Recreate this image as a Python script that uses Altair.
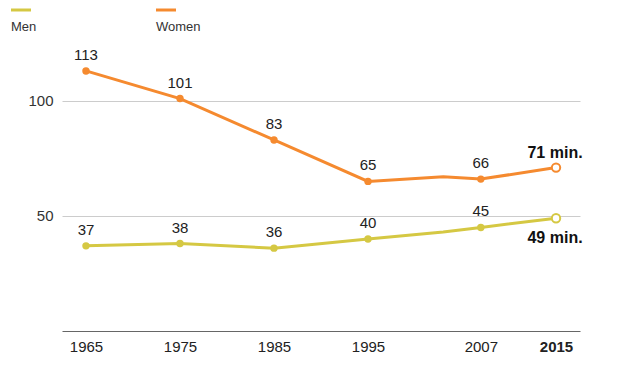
import altair as alt
import pandas as pd

years = [1965, 1975, 1985, 1995, 2003, 2007, 2015]
men = [37, 38, 36, 40, 43, 45, 49]
women = [113, 101, 83, 65, 67, 66, 71]
labeled = [True, True, True, True, False, True, True]
series_names = ["Men", "Women"]
colors = ["#d5c843", "#f58a2f"]
x_ticks = [1965, 1975, 1985, 1995, 2007, 2015]
y_ticks = [50, 100]

rows = []
for name, vals in zip(series_names, [men, women]):
    for i, (yr, v, lab) in enumerate(zip(years, vals, labeled)):
        last = i == len(years) - 1
        rows.append({
            "year": yr, "value": v, "series": name,
            "kind": "none" if not lab else ("open" if last else "filled"),
            "label": (f"{v} min." if last else str(v)) if lab else "",
        })
df = pd.DataFrame(rows)

font = "Liberation Sans"
x = alt.X("year:Q", scale=alt.Scale(domain=[1962.45, 2017.55], nice=False, zero=False),
          axis=alt.Axis(values=x_ticks, format="d", title=None, ticks=False, grid=False,
                        domainColor="#666", domainWidth=1, labelPadding=8,
                        labelFontSize=15, labelColor="#222", labelFont=font,
                        labelFontWeight=alt.expr("datum.value == 2015 ? 'bold' : 'normal'")))
y = alt.Y("value:Q", scale=alt.Scale(domain=[0, 126], nice=False),
          axis=alt.Axis(values=y_ticks, title=None, ticks=False, domain=False,
                        gridColor="#cccccc", labelPadding=9, labelFontSize=15,
                        labelColor="#333", labelFont=font))
color = alt.Color("series:N", scale=alt.Scale(domain=series_names, range=colors), legend=None)

base = alt.Chart(df)
lines = base.mark_line(strokeWidth=3).encode(x=x, y=y, color=color, detail="series:N")
filled = base.transform_filter("datum.kind == 'filled'").mark_point(
    filled=True, size=55, opacity=1).encode(x=x, y=y, color=color)
opened = base.transform_filter("datum.kind == 'open'").mark_point(
    filled=True, size=70, fill="white", strokeWidth=2, opacity=1).encode(
    x=x, y=y, stroke=alt.Stroke("series:N", scale=alt.Scale(domain=series_names, range=colors), legend=None))
labels = base.transform_filter("datum.kind == 'filled'").mark_text(
    dy=-16, fontSize=15, color="#222", font=font).encode(x=x, y=y, text="label:N")
last_w = base.transform_filter("datum.kind == 'open' && datum.series == 'Women'").mark_text(
    dy=-15, dx=-1, fontSize=16, fontWeight="bold", color="#111", font=font).encode(x=x, y=y, text="label:N")
last_m = base.transform_filter("datum.kind == 'open' && datum.series == 'Men'").mark_text(
    dy=20, dx=-1, fontSize=16, fontWeight="bold", color="#111", font=font).encode(x=x, y=y, text="label:N")

leg = []
leg_x = [-51, 94]
for name, c, lx in zip(series_names, colors, leg_x):
    leg.append(alt.Chart(pd.DataFrame({"s": [name]})).mark_rule(color=c, strokeWidth=3).encode(
        x=alt.value(lx), x2=alt.value(lx + 20), y=alt.value(-31)))
    leg.append(alt.Chart(pd.DataFrame({"s": [name]})).mark_text(
        align="left", baseline="middle", fontSize=13, color="#333", font=font).encode(
        x=alt.value(lx), y=alt.value(-14), text="s:N"))

chart = alt.layer(lines, filled, opened, labels, last_w, last_m, *leg).properties(
    width=518, height=290,
    autosize=alt.AutoSizeParams(type="none"),
    padding={"left": 54, "top": 33, "right": 40, "bottom": 26},
).configure_view(stroke=None)

chart.save("out.html", embed_options={"renderer": "svg", "actions": False})
